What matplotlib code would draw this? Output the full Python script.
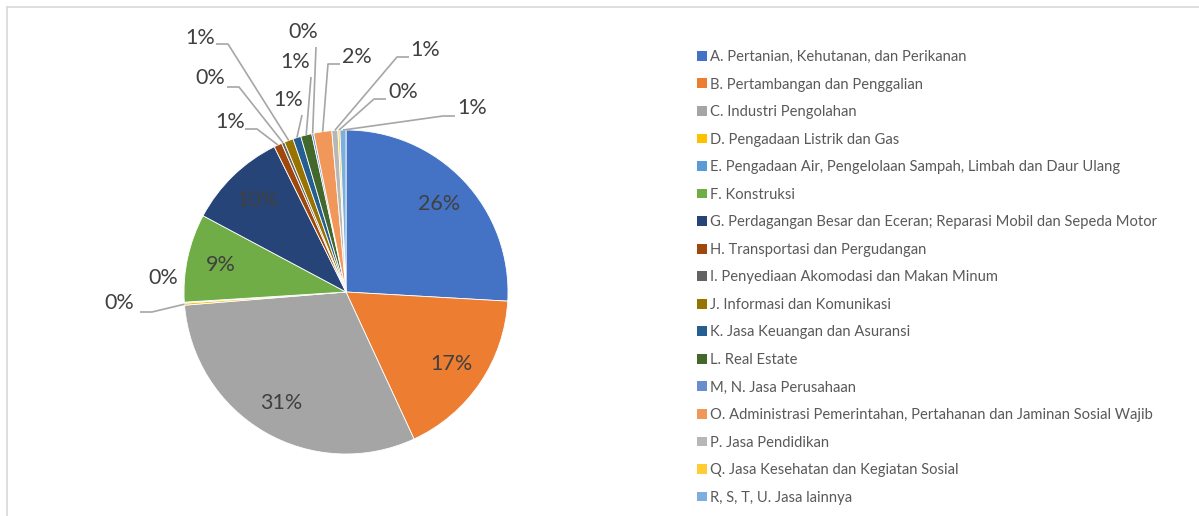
import matplotlib
matplotlib.use("Agg")
import matplotlib.pyplot as plt
from matplotlib.patches import Patch
from matplotlib.lines import Line2D
import numpy as np

plt.rcParams['font.family'] = ['Lato', 'DejaVu Sans']

categories = [
    "A. Pertanian, Kehutanan, dan Perikanan",
    "B. Pertambangan dan Penggalian",
    "C. Industri Pengolahan",
    "D. Pengadaan Listrik dan Gas",
    "E. Pengadaan Air, Pengelolaan Sampah, Limbah dan Daur Ulang",
    "F. Konstruksi",
    "G. Perdagangan Besar dan Eceran; Reparasi Mobil dan Sepeda Motor",
    "H. Transportasi dan Pergudangan",
    "I. Penyediaan Akomodasi dan Makan Minum",
    "J. Informasi dan Komunikasi",
    "K. Jasa Keuangan dan Asuransi",
    "L. Real Estate",
    "M, N. Jasa Perusahaan",
    "O. Administrasi Pemerintahan, Pertahanan dan Jaminan Sosial Wajib",
    "P. Jasa Pendidikan",
    "Q. Jasa Kesehatan dan Kegiatan Sosial",
    "R, S, T, U. Jasa lainnya",
]
values = [25.9, 17.2, 30.6, 0.2, 0.1, 8.8, 9.9, 0.8, 0.3, 0.9, 0.8, 1.1, 0.2, 1.8, 0.6, 0.2, 0.6]
colors = ["#4472C4", "#ED7D31", "#A5A5A5", "#FFC000", "#5B9BD5", "#70AD47", "#264478",
          "#9E480E", "#636363", "#997300", "#255E91", "#43682B", "#698ED0", "#F1975A",
          "#B7B7B7", "#FFCD33", "#7CAFDD"]

# label layout: None = inside label; otherwise (text_px, elbow_px, kind) in pixel coords
label_layout = [
    None, None, None,
    ((119, 303), (152, 312), 'left'),     # D
    ((163, 278), None, 'none'),           # E
    None, None,
    ((230, 122), (257, 129), 'left'),     # H
    ((210, 78), (239, 87), 'left'),       # I
    ((200, 38), (228, 44), 'left'),       # J
    ((288, 100), (302, 115), 'vert'),     # K
    ((295, 62), (311, 77), 'vert'),       # L
    ((303, 32), (316, 47), 'vert'),       # M
    ((357, 57), (328, 64), 'right'),      # O
    ((425, 50), (397, 57), 'right'),      # P
    ((403, 92), (374, 99), 'right'),      # Q
    ((472, 108), (443, 116), 'right'),    # R
]

W, H = 1199, 516
fig = plt.figure(figsize=(W / 100, H / 100), dpi=100)

# border lines
fig.add_artist(Line2D([6.5 / W, 1], [1 - 6.5 / H, 1 - 6.5 / H], color="#D9D9D9", lw=1.2, transform=fig.transFigure))
fig.add_artist(Line2D([6.5 / W, 6.5 / W], [0, 1 - 6.5 / H], color="#D9D9D9", lw=1.2, transform=fig.transFigure))

cx, cy, R = 346, 292, 162
xl = (-1.6, 1.6)
yl = (-(H - cy) / R, cy / R)
left_px = cx + xl[0] * R
ax = fig.add_axes([left_px / W, 0, (xl[1] - xl[0]) * R / W, 1])

def px2d(px, py):
    return ((px - cx) / R, (cy - py) / R)

wedges, _ = ax.pie(values, colors=colors, startangle=90, counterclock=False, radius=1.0,
                   wedgeprops=dict(edgecolor="white", linewidth=0.6))
ax.set_aspect('auto')
ax.set_xlim(*xl)
ax.set_ylim(*yl)
ax.axis("off")

total = sum(values)
txtc = "#404040"
linec = "#A6A6A6"
fs = 15.5
for w, v, lay in zip(wedges, values, label_layout):
    pct = "%d%%" % int(np.floor(v / total * 100 + 0.5))
    mid = np.deg2rad((w.theta1 + w.theta2) / 2)
    if lay is None:
        r = 0.79
        ax.text(r * np.cos(mid), r * np.sin(mid), pct, ha="center", va="center",
                fontsize=fs, color=txtc)
        continue
    (tpx, tpy), elbow, kind = lay
    tx, ty = px2d(tpx, tpy)
    ax.text(tx, ty, pct, ha="center", va="center", fontsize=fs, color=txtc)
    if kind == 'none':
        continue
    ex, ey = 1.0 * np.cos(mid), 1.0 * np.sin(mid)
    bx, by = px2d(*elbow)
    if kind == 'left':
        sx = bx - 12 / R
        ax.plot([sx, bx, ex], [by, by, ey], color=linec, lw=1.2, solid_capstyle="butt")
    elif kind == 'right':
        sx = bx + 12 / R
        ax.plot([sx, bx, ex], [by, by, ey], color=linec, lw=1.2, solid_capstyle="butt")
    else:
        ax.plot([bx, ex], [by, ey], color=linec, lw=1.2, solid_capstyle="butt")

handles = [Patch(facecolor=c, edgecolor="none") for c in colors]
leg = fig.legend(handles, categories, loc="upper left", bbox_to_anchor=(697 / W, 1 - 50 / H),
                 frameon=False, fontsize=10.6, labelspacing=0.92, handlelength=0.65,
                 handleheight=0.65, handletextpad=0.25, borderpad=0, borderaxespad=0)
for t in leg.get_texts():
    t.set_color("#595959")

fig.savefig("out.png", dpi=100)
